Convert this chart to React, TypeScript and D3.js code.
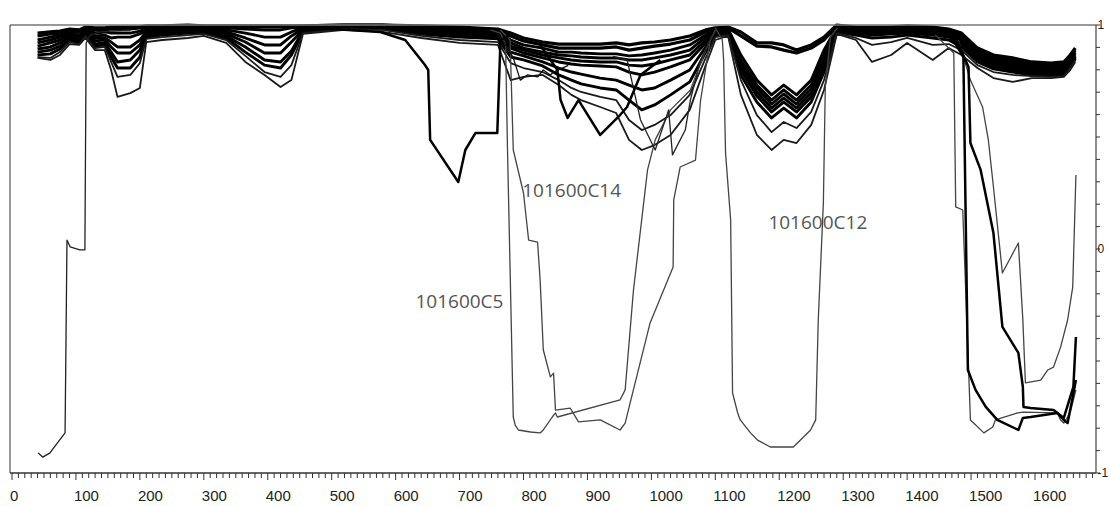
import React from 'react';
import * as d3 from 'd3';

// chart size and plot box (in px)
const W = 1109;
const H = 506;
const box = { left: 10, right: 1096, top: 25, bottom: 473 };

// shared x stations for the dense band of profiles
const stations = [40, 60, 75, 90, 105, 115, 130, 145, 155, 165, 185, 200, 210, 235, 275, 300, 335, 365, 395, 420,
  437, 455, 520, 580, 640, 700, 760, 780, 800, 830, 855, 875, 890, 920, 945, 965, 985, 1005, 1030, 1060,
  1085, 1100, 1120, 1140, 1165, 1188, 1207, 1227, 1250, 1270, 1290, 1320, 1345, 1375, 1400, 1440, 1465, 1485, 1510, 1535,
  1565, 1595, 1625, 1645, 1655, 1663];

const band0 = [0.964, 0.969, 0.973, 0.982, 0.978, 0.991, 0.987, 0.987, 0.991, 0.991,
  0.991, 0.991, 0.996, 0.996, 1.0, 0.996, 0.996, 0.996, 0.996, 0.996,
  0.996, 0.996, 1.0, 1.0, 0.996, 0.991, 0.982, 0.964, 0.942, 0.924,
  0.915, 0.915, 0.915, 0.915, 0.92, 0.911, 0.92, 0.924, 0.933, 0.951,
  0.978, 0.987, 0.991, 0.969, 0.92, 0.92, 0.911, 0.888, 0.911, 0.946,
  1.0, 0.991, 0.991, 0.991, 0.996, 0.991, 0.982, 0.964, 0.897, 0.866,
  0.853, 0.835, 0.83, 0.835, 0.866, 0.897];
const band1 = [0.951, 0.96, 0.964, 0.978, 0.969, 0.987, 0.978, 0.978, 0.982, 0.982,
  0.982, 0.987, 0.991, 0.991, 0.996, 0.991, 0.991, 0.991, 0.991, 0.991,
  0.991, 0.996, 1.0, 1.0, 0.991, 0.987, 0.973, 0.951, 0.929, 0.911,
  0.897, 0.897, 0.897, 0.897, 0.902, 0.888, 0.897, 0.906, 0.915, 0.933,
  0.969, 0.982, 0.987, 0.951, 0.906, 0.902, 0.888, 0.875, 0.897, 0.933,
  0.996, 0.987, 0.987, 0.987, 0.991, 0.987, 0.978, 0.955, 0.888, 0.857,
  0.844, 0.826, 0.821, 0.826, 0.857, 0.888];
const band2 = [0.933, 0.946, 0.955, 0.969, 0.955, 0.982, 0.964, 0.969, 0.964, 0.964,
  0.964, 0.973, 0.982, 0.987, 0.991, 0.987, 0.987, 0.982, 0.978, 0.978,
  0.987, 0.991, 0.996, 0.996, 0.987, 0.982, 0.969, 0.933, 0.911, 0.897,
  0.879, 0.879, 0.875, 0.871, 0.871, 0.862, 0.866, 0.875, 0.888, 0.911,
  0.955, 0.978, 0.982, 0.866, 0.754, 0.688, 0.732, 0.688, 0.754, 0.888,
  0.991, 0.982, 0.982, 0.982, 0.987, 0.982, 0.973, 0.946, 0.879, 0.848,
  0.835, 0.817, 0.813, 0.817, 0.848, 0.879];
const band3 = [0.92, 0.933, 0.946, 0.96, 0.946, 0.978, 0.951, 0.955, 0.942, 0.946,
  0.946, 0.96, 0.978, 0.982, 0.987, 0.982, 0.978, 0.964, 0.946, 0.946,
  0.969, 0.987, 0.996, 0.996, 0.982, 0.978, 0.964, 0.92, 0.897, 0.879,
  0.866, 0.862, 0.857, 0.853, 0.853, 0.844, 0.844, 0.853, 0.866, 0.888,
  0.946, 0.973, 0.978, 0.844, 0.732, 0.665, 0.71, 0.665, 0.732, 0.866,
  0.987, 0.978, 0.978, 0.978, 0.982, 0.978, 0.969, 0.938, 0.871, 0.839,
  0.826, 0.808, 0.804, 0.808, 0.839, 0.871];
const band4 = [0.906, 0.92, 0.933, 0.955, 0.942, 0.973, 0.942, 0.942, 0.924, 0.902,
  0.902, 0.933, 0.969, 0.978, 0.982, 0.978, 0.969, 0.942, 0.911, 0.911,
  0.951, 0.982, 0.991, 0.991, 0.978, 0.973, 0.96, 0.906, 0.888, 0.866,
  0.853, 0.844, 0.839, 0.835, 0.835, 0.821, 0.817, 0.826, 0.844, 0.866,
  0.933, 0.969, 0.973, 0.83, 0.719, 0.647, 0.692, 0.647, 0.714, 0.848,
  0.982, 0.973, 0.973, 0.973, 0.978, 0.973, 0.964, 0.929, 0.862, 0.83,
  0.817, 0.799, 0.795, 0.799, 0.83, 0.862];
const band5 = [0.893, 0.902, 0.92, 0.946, 0.933, 0.969, 0.929, 0.933, 0.902, 0.875,
  0.875, 0.911, 0.96, 0.969, 0.978, 0.973, 0.96, 0.924, 0.875, 0.875,
  0.924, 0.978, 0.991, 0.991, 0.973, 0.964, 0.955, 0.897, 0.875, 0.853,
  0.835, 0.826, 0.821, 0.817, 0.813, 0.79, 0.777, 0.79, 0.813, 0.844,
  0.92, 0.964, 0.969, 0.817, 0.701, 0.629, 0.674, 0.629, 0.696, 0.83,
  0.978, 0.969, 0.964, 0.969, 0.973, 0.964, 0.955, 0.92, 0.853, 0.821,
  0.808, 0.79, 0.786, 0.79, 0.821, 0.857];
const band6 = [0.879, 0.888, 0.906, 0.938, 0.924, 0.964, 0.915, 0.92, 0.879, 0.835,
  0.844, 0.888, 0.955, 0.964, 0.973, 0.969, 0.951, 0.902, 0.844, 0.835,
  0.884, 0.973, 0.987, 0.987, 0.969, 0.955, 0.946, 0.879, 0.862, 0.835,
  0.808, 0.79, 0.781, 0.763, 0.754, 0.732, 0.71, 0.719, 0.754, 0.799,
  0.902, 0.96, 0.964, 0.799, 0.683, 0.612, 0.656, 0.612, 0.679, 0.813,
  0.973, 0.964, 0.955, 0.96, 0.964, 0.955, 0.946, 0.911, 0.844, 0.813,
  0.799, 0.781, 0.777, 0.786, 0.817, 0.853];
const band7 = [0.866, 0.871, 0.893, 0.933, 0.92, 0.955, 0.906, 0.911, 0.857, 0.808,
  0.808, 0.857, 0.946, 0.955, 0.964, 0.964, 0.942, 0.879, 0.821, 0.808,
  0.866, 0.969, 0.987, 0.982, 0.96, 0.946, 0.938, 0.857, 0.844, 0.817,
  0.777, 0.754, 0.737, 0.719, 0.71, 0.665, 0.621, 0.643, 0.688, 0.746,
  0.879, 0.955, 0.96, 0.777, 0.656, 0.585, 0.629, 0.585, 0.656, 0.79,
  0.969, 0.955, 0.942, 0.946, 0.955, 0.942, 0.933, 0.902, 0.835, 0.804,
  0.79, 0.777, 0.772, 0.777, 0.813, 0.848];
const band8 = [0.857, 0.853, 0.879, 0.924, 0.915, 0.951, 0.897, 0.902, 0.835, 0.768,
  0.777, 0.83, 0.938, 0.946, 0.955, 0.96, 0.933, 0.862, 0.79, 0.768,
  0.821, 0.964, 0.982, 0.978, 0.951, 0.933, 0.924, 0.83, 0.808, 0.79,
  0.754, 0.719, 0.701, 0.679, 0.665, 0.576, 0.531, 0.554, 0.598, 0.688,
  0.853, 0.946, 0.955, 0.754, 0.598, 0.522, 0.567, 0.54, 0.612, 0.754,
  0.964, 0.942, 0.911, 0.924, 0.942, 0.911, 0.915, 0.888, 0.821, 0.79,
  0.777, 0.772, 0.768, 0.772, 0.808, 0.844];
const band9 = [0.853, 0.844, 0.866, 0.915, 0.911, 0.942, 0.888, 0.888, 0.799, 0.679,
  0.696, 0.719, 0.924, 0.933, 0.942, 0.951, 0.92, 0.835, 0.777, 0.723,
  0.754, 0.96, 0.978, 0.969, 0.942, 0.92, 0.911, 0.754, 0.768, 0.777,
  0.732, 0.688, 0.665, 0.634, 0.607, 0.487, 0.442, 0.464, 0.509, 0.621,
  0.821, 0.933, 0.951, 0.688, 0.509, 0.442, 0.487, 0.473, 0.554, 0.71,
  0.96, 0.933, 0.835, 0.866, 0.92, 0.844, 0.897, 0.866, 0.808, 0.763,
  0.746, 0.763, 0.763, 0.768, 0.799, 0.835];

// individual profiles that leave the band ([x, value] pairs)
const farLeft = [[41, -0.911], [48, -0.929], [59, -0.911], [83, -0.821], [86, 0.04], [91, 0.009], [106, -0.004],
  [114, -0.004], [116, 0.92], [122, 0.955], [138, 0.969], [185, 0.978]];
const deepDip = [[451, 0.991], [576, 0.969], [615, 0.933], [646, 0.821], [651, 0.799], [654, 0.487], [698, 0.299],
  [709, 0.442], [725, 0.518], [759, 0.518], [764, 0.933], [779, 0.955]];
const wLine = [[826, 0.911], [853, 0.799], [858, 0.665], [869, 0.585], [886, 0.665], [920, 0.509], [951, 0.598],
  [962, 0.634], [983, 0.777], [1014, 0.844]];
const upperZig = [[760, 0.96], [775, 0.897], [784, 0.853], [795, 0.754], [806, 0.777], [822, 0.768], [831, 0.799],
  [842, 0.777], [847, 0.79], [870, 0.82]];
const fanLine = [[940, 0.86], [962, 0.844], [983, 0.576], [1006, 0.442], [1027, 0.621], [1033, 0.42], [1053, 0.531],
  [1061, 0.665], [1077, 0.844], [1095, 0.955]];
const c5 = [[748, 0.978], [764, 0.964], [772, 0.911], [775, 0.442], [784, -0.75], [787, -0.786], [792, -0.808],
  [811, -0.817], [826, -0.821], [831, -0.808], [845, -0.75], [850, -0.732], [853, -0.75], [951, -0.674],
  [959, -0.629], [972, -0.183], [994, 0.353], [1006, 0.487], [1030, 0.621], [1061, 0.71], [1085, 0.888], [1100, 0.978]];
const c14 = [[764, 0.978], [779, 0.933], [784, 0.442], [800, 0.25], [808, 0.04], [822, 0.031], [826, -0.138],
  [831, -0.451], [842, -0.571], [847, -0.554], [850, -0.719], [873, -0.71], [886, -0.772], [920, -0.763],
  [951, -0.808], [959, -0.777], [964, -0.719], [998, -0.33], [1034, -0.08], [1035, 0.219], [1045, 0.366],
  [1069, 0.397], [1077, 0.665], [1092, 0.933]];
const c12 = [[1100, 0.987], [1111, 0.933], [1113, 0.844], [1116, 0.429], [1124, 0.129], [1127, -0.643],
  [1135, -0.732], [1139, -0.763], [1155, -0.821], [1166, -0.853], [1186, -0.884], [1222, -0.884],
  [1238, -0.839], [1249, -0.808], [1257, -0.763], [1261, -0.317], [1269, 0.205], [1272, 0.723],
  [1280, 0.946], [1291, 0.987]];
const rightA = [[1444, 0.955], [1465, 0.897], [1473, 0.875], [1476, 0.188], [1487, 0.174], [1499, -0.763],
  [1504, -0.777], [1520, -0.821], [1534, -0.795], [1538, -0.763], [1573, -0.732], [1582, -0.728],
  [1635, -0.732], [1640, -0.763], [1645, -0.777], [1651, -0.75], [1656, -0.719], [1664, -0.629]];
const rightB = [[1468, 0.955], [1488, 0.857], [1495, -0.54], [1507, -0.629], [1523, -0.705], [1541, -0.763],
  [1574, -0.808], [1581, -0.754], [1593, -0.75], [1635, -0.732], [1645, -0.763], [1651, -0.777],
  [1659, -0.661], [1664, -0.585]];
const rightC = [[1476, 0.942], [1496, 0.813], [1499, 0.473], [1515, 0.353], [1535, 0.071], [1549, -0.348],
  [1574, -0.464], [1581, -0.616], [1582, -0.705], [1593, -0.71], [1629, -0.719], [1645, -0.754],
  [1660, -0.616], [1664, -0.393]];
const rightD = [[1480, 0.933], [1499, 0.754], [1518, 0.634], [1527, 0.487], [1535, 0.277], [1549, -0.107],
  [1574, 0.027], [1581, -0.317], [1585, -0.598], [1609, -0.585], [1620, -0.54], [1629, -0.527],
  [1640, -0.438], [1651, -0.317], [1659, -0.17], [1664, 0.33]];

const notes = [
  { text: '101600C14', x: 798, y: 0.232 },
  { text: '101600C12', x: 1183, y: 0.089 },
  { text: '101600C5', x: 631, y: -0.263 },
];

const xLabels = [0, 100, 200, 300, 400, 500, 600, 700, 800, 900, 1000, 1100, 1200, 1300, 1400, 1500, 1600];
const yLabels = [-1, 0, 1];

const App = () => {
  const x = d3.scaleLinear().domain([0, 1600]).range([12, 1035]);
  const y = d3.scaleLinear().domain([-1, 1]).range([box.bottom, box.top]);

  const line = d3.line<number[]>().x(d => x(d[0])).y(d => y(d[1]));
  const bands = [band0, band1, band2, band3, band4, band5, band6, band7, band8, band9]
    .map(vals => vals.map((v, i) => [stations[i], v]));

  // estilos de las series
  const thin = { stroke: '#444', width: 1.3 };
  const thick = { stroke: '#000', width: 2.5 };
  const specials = [
    { pts: farLeft, ...thin, stroke: '#222' },
    { pts: c5, ...thin },
    { pts: c14, ...thin },
    { pts: c12, ...thin },
    { pts: upperZig, ...thin, stroke: '#111' },
    { pts: fanLine, ...thin, stroke: '#222' },
    { pts: rightA, ...thin },
    { pts: rightD, ...thin },
    { pts: deepDip, ...thick },
    { pts: wLine, ...thick },
    { pts: rightB, ...thick },
    { pts: rightC, ...thick },
  ];

  const xTicks = d3.range(0, 1700, 10);
  const yTicks = d3.range(-10, 11).map(i => i / 10);

  return (
    <svg width={W} height={H} style={{ position: 'absolute', left: 0, top: 0, background: '#fff' }}
      fontFamily="'Liberation Sans', Arial, sans-serif">
      <rect x={0} y={0} width={W} height={H} fill="#fff" />
      {/* perfiles */}
      <g fill="none" strokeLinejoin="round">
        {bands.map((b, i) => (
          <path key={'b' + i} d={line(b) as string}
            stroke={i < 8 ? '#000' : '#1a1a1a'} strokeWidth={i < 2 ? 3.2 : i < 8 ? 2.9 : 1.8} />
        ))}
        {specials.map((s, i) => (
          <path key={'s' + i} d={line(s.pts) as string} stroke={s.stroke} strokeWidth={s.width} />
        ))}
      </g>

      {/* marco */}
      <line x1={box.left} x2={box.right} y1={box.top} y2={box.top} stroke="#777" strokeWidth={1.5} />
      <line x1={box.left} x2={box.left} y1={box.top} y2={box.bottom} stroke="#555" strokeWidth={1.2} />
      <line x1={box.left} x2={box.right} y1={box.bottom} y2={box.bottom} stroke="#333" strokeWidth={1.4} />
      <line x1={box.right} x2={box.right} y1={box.top} y2={box.bottom} stroke="#444" strokeWidth={1.2} />

      {/* eje X */}
      {xTicks.map(t => (
        <line key={'xt' + t} x1={x(t)} x2={x(t)} y1={box.bottom} y2={box.bottom + (t % 100 === 0 ? 7 : 5)}
          stroke="#333" strokeWidth={1} />
      ))}
      {xLabels.map(t => (
        <text key={'xl' + t} x={x(t) - 2} y={501} fontSize={15} fill="#222">{t}</text>
      ))}

      {/* eje Y derecho */}
      {yTicks.map(t => (
        <line key={'yt' + t} x1={box.right} x2={box.right + 4} y1={y(t)} y2={y(t)} stroke="#333" strokeWidth={1} />
      ))}
      {yLabels.map(t => (
        <text key={'yl' + t} x={box.right + 1.5} y={y(t)} dy="0.35em" fontSize={12} fill="#222">{t}</text>
      ))}

      {/* etiquetas */}
      {notes.map(n => (
        <text key={n.text} x={x(n.x)} y={y(n.y)} fontSize={19} fill="#555"
          fontFamily="'Open Sans', 'Noto Sans', sans-serif">{n.text}</text>
      ))}
    </svg>
  );
};

export default App;
